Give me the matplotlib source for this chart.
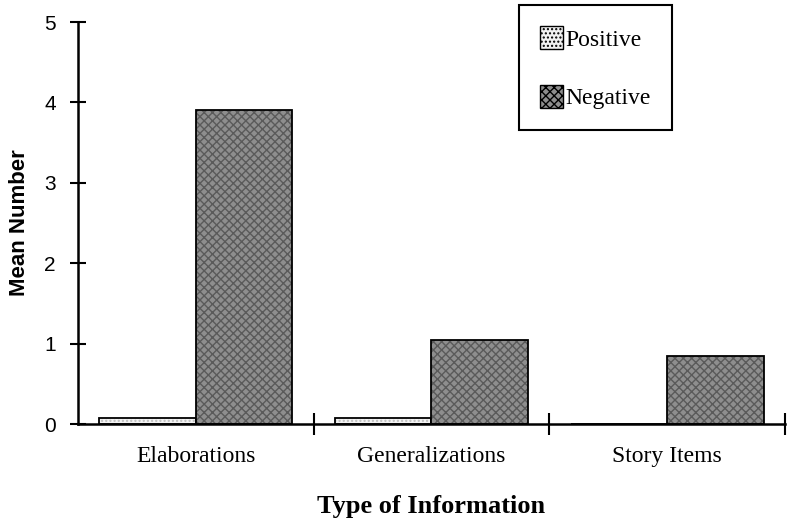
import matplotlib.pyplot as plt
import numpy as np
from matplotlib.patches import Patch

categories = ['Elaborations', 'Generalizations', 'Story Items']
positive = [0.08, 0.08, 0.0]
negative = [3.9, 1.04, 0.85]
yticks = [0, 1, 2, 3, 4, 5]

SERIF = 'Liberation Serif'
SANS = 'Liberation Sans'

fig = plt.figure(figsize=(7.89, 5.21), dpi=100)
ax = fig.add_axes([78/789, 1 - 424/521, 707/789, 402/521])

x = np.arange(len(categories)) + 0.5
w = 0.41

pos_face, neg_face = '#f2f2f2', '#8e8e8e'
# fill + stipple overlay, then black outline
ax.bar(x - w/2, positive, w, color=pos_face, edgecolor='none')
ax.bar(x - w/2, positive, w, color='none', edgecolor='#bdbdbd', hatch='....', linewidth=0)
ax.bar(x - w/2, positive, w, color='none', edgecolor='black', linewidth=1.3)
ax.bar(x + w/2, negative, w, color=neg_face, edgecolor='none')
ax.bar(x + w/2, negative, w, color='none', edgecolor='#5a5a5a', hatch='xxxx', linewidth=0)
ax.bar(x + w/2, negative, w, color='none', edgecolor='black', linewidth=1.3)

ax.set_xlim(0, 3)
ax.set_ylim(0, 5)
for s in ['top', 'right']:
    ax.spines[s].set_visible(False)
ax.spines['left'].set_linewidth(1.8)
ax.spines['bottom'].set_linewidth(1.8)

ax.set_yticks(yticks)
ax.set_yticklabels([str(t) for t in yticks], fontfamily=SANS, fontsize=15)
ax.tick_params(axis='y', direction='inout', length=12, width=1.5, pad=10)

ax.set_xticks([1, 2, 3])
ax.set_xticklabels(['', '', ''])
ax.tick_params(axis='x', direction='inout', length=16, width=1.5)
ax.set_xticks(x, minor=True)
ax.set_xticklabels(categories, minor=True, fontfamily=SERIF, fontsize=17)
ax.tick_params(axis='x', which='minor', length=0, pad=16)

ax.set_ylabel('Mean Number', fontfamily=SANS, fontweight='heavy', fontsize=16, labelpad=10)
ax.set_xlabel('Type of Information', fontfamily=SERIF, fontweight='bold', fontsize=19, labelpad=20)

handles = [Patch(facecolor=pos_face, edgecolor='black', hatch='....', label='Positive'),
           Patch(facecolor=neg_face, edgecolor='black', hatch='xxxx', label='Negative')]
leg = fig.legend(handles=handles, loc='upper left', bbox_to_anchor=(519/789, 1 - 5/521),
                 prop={'family': SERIF, 'size': 17}, handlelength=0.95, handleheight=1.1,
                 handletextpad=0.1, labelspacing=1.45, borderpad=0.9, borderaxespad=0,
                 fancybox=False, framealpha=1, edgecolor='black')
leg.get_frame().set_linewidth(1.5)

plt.savefig('out.png', dpi=100)
